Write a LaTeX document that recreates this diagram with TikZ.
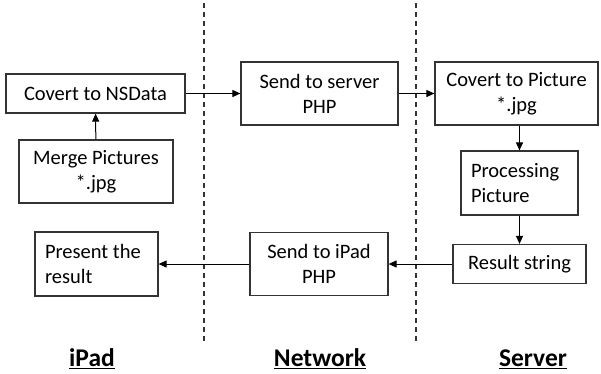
\documentclass[tikz,border=0pt]{standalone}
\usepackage{fontspec}
\setmainfont{Carlito}
\usetikzlibrary{arrows.meta}
\begin{document}
\begin{tikzpicture}[x=1pt,y=-1pt,
  box/.style={draw=black!80,line width=1.2pt,inner sep=0pt,font=\fontsize{20.5}{25}\selectfont,align=center},
  arr/.style={line width=1pt,-{Triangle[length=8pt,width=7pt]}},
  sep/.style={line width=1.1pt,dash pattern=on 5pt off 4pt,black!80},
  lab/.style={font=\fontsize{25.5}{28}\selectfont\bfseries}]
\useasboundingbox (0,0) rectangle (601,373);
\node[box,minimum width=179pt,minimum height=39pt] (nsdata) at (95.5,93.5) {Covert to NSData};
\node[box,minimum width=154pt,minimum height=63pt] (merge) at (96,171.5) {Merge Pictures\\*.jpg};
\node[box,minimum width=157pt,minimum height=63pt] (sendsrv) at (319.5,93.5) {Send to server\\PHP};
\node[box,minimum width=163pt,minimum height=63pt] (topic) at (516.5,93.5) {Covert to Picture\\*.jpg};
\node[box,minimum width=117pt,minimum height=64pt,text width=97pt,align=flush left] (proc) at (519.5,183) {Processing\\Picture};
\node[box,minimum width=133pt,minimum height=39pt] (result) at (519.5,264) {Result string};
\node[box,minimum width=138pt,minimum height=63pt] (sendipad) at (319,264) {Send to iPad\\PHP};
\node[box,minimum width=123pt,minimum height=64pt,text width=103pt,align=flush left] (present) at (96.5,264) {Present the\\result};
\coordinate (d1a) at (204,3); \coordinate (d1b) at (204,343);
\coordinate (d2a) at (416,3); \coordinate (d2b) at (416,343);
\draw[sep] (d1a) -- (d1b);
\draw[sep] (d2a) -- (d2b);
\draw[arr] (merge) -- (nsdata);
\draw[arr] (nsdata) -- (sendsrv);
\draw[arr] (sendsrv) -- (topic);
\draw[arr] (topic.south -| proc.north) -- (proc.north);
\draw[arr] (proc.south) -- (result.north);
\draw[arr] (result) -- (sendipad);
\draw[arr] (sendipad) -- (present);
\node[lab] (ipad) at (92,359) {\underline{iPad}};
\node[lab] (net) at (320,359) {\underline{Network}};
\node[lab] (srv) at (533,359) {\underline{Server}};
\end{tikzpicture}
\end{document}
